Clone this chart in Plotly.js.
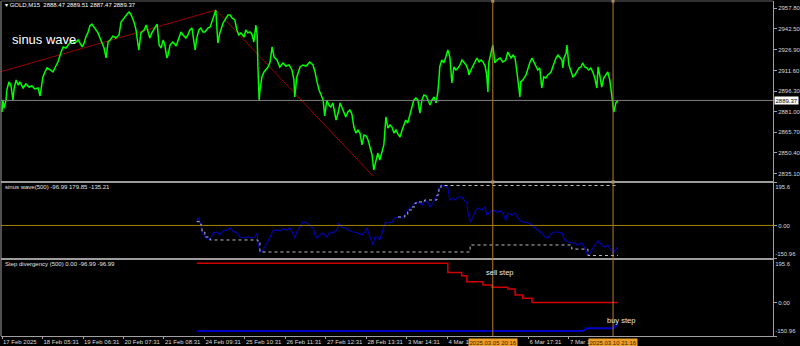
<!DOCTYPE html>
<html><head><meta charset="utf-8">
<script src="https://cdn.plot.ly/plotly-3.0.1.min.js"></script>
<style>html,body{margin:0;padding:0;background:#000;}#chart{width:800px;height:346px;}</style>
</head><body><div id="chart"></div>
<script>
// ---- data (bar index = M15 bars since 17 Feb 2025) ----
const priceBars = [0,2,5,10,12,17,22,27,30,35,40,44,52,59,67,74,81,89,94,96,101,106,111,119,126,133,138,146,151,158,165,173,180,188,193,198,202,207,212,217,222,227,232,237,242,247,252,257,262,267,274,281,289,294,301,309,314,319,326,331,336,338,343,351,356,360,365,370,378,383,388,393,398,402,407,410,415,422,430,435,442,447,454,459,464,469,474,477,481,486,491,496,501,509,514,518,523,528,533,538,546,553,558,563,568,575,580,585,590,598,602,607,612,617,622,627,630,632,635,637,642,647,652,657,662,667,672,679,686,694,701,709,716,721,723,728,736,743,751,756,760,768,773,778,783,788,793,797,802,807,812,817,822,825,830,835,840,844,849,854,859,864,869,874,879,884,889,894,899,904,909,914,918,921,926,928,933,938,943,948,953,958,963,968,973,978,983,988,993,997,1002,1007,1012,1017,1022,1027,1032,1037,1042,1047,1052,1057,1062,1067,1072,1076,1079,1081,1086,1091,1096,1101,1106,1109,1111,1116,1121,1126,1131,1136,1141,1146,1151,1153,1158,1163,1168,1173,1178,1183,1188,1193,1197,1200,1202,1207,1212,1215,1217,1222,1230,1237,1244,1249,1257,1262,1267,1272,1276,1279,1281,1286,1294,1299,1304,1309,1314,1318,1323,1328,1331,1333,1338,1343,1348,1356,1360,1368,1373,1378,1383,1385,1388,1393,1395,1400,1405,1410,1415,1420,1425,1430,1434,1439,1444,1449,1454,1459,1464,1469,1472,1477,1481,1486,1491,1496,1501,1506,1509,1511,1516,1521];
const priceClose = [2880.8,2889.7,2883.7,2889.7,2897.1,2903.1,2900.8,2889.7,2898.6,2904.5,2900.8,2903.1,2898.6,2901.6,2899.3,2900.1,2897.9,2898.6,2892.7,2897.1,2906.8,2910.5,2913.5,2912.0,2910.5,2914.9,2917.9,2925.3,2929.1,2928.3,2931.3,2933.5,2932.0,2934.3,2931.3,2929.1,2931.3,2936.5,2939.5,2944.7,2946.1,2943.9,2941.7,2939.5,2935.7,2932.0,2928.3,2920.9,2932.8,2934.3,2937.2,2935.7,2938.0,2947.6,2950.6,2953.6,2955.1,2952.8,2947.6,2941.7,2930.5,2926.8,2939.5,2941.7,2945.4,2940.2,2935.7,2939.5,2943.2,2946.1,2930.5,2928.3,2934.3,2930.5,2920.9,2923.1,2930.5,2932.8,2929.8,2934.3,2940.2,2938.0,2935.7,2938.0,2941.7,2943.2,2934.3,2926.8,2935.7,2941.7,2943.2,2940.2,2940.2,2943.2,2943.9,2947.6,2950.6,2956.5,2932.0,2939.5,2946.9,2950.6,2952.8,2952.8,2950.6,2949.1,2941.7,2938.0,2939.5,2936.5,2941.7,2939.5,2940.2,2938.7,2932.8,2945.4,2938.0,2914.2,2889.7,2897.1,2906.8,2910.5,2912.0,2914.2,2917.9,2929.1,2921.6,2919.4,2914.2,2917.2,2914.9,2915.7,2912.0,2904.5,2891.9,2906.8,2914.2,2915.7,2914.9,2916.4,2917.9,2915.7,2910.5,2903.1,2897.1,2893.4,2889.7,2877.8,2889.7,2886.0,2884.5,2887.5,2880.8,2874.8,2880.0,2887.5,2883.7,2880.0,2877.1,2880.8,2882.3,2879.3,2869.6,2865.2,2867.4,2865.2,2856.3,2863.7,2863.0,2860.0,2854.8,2848.8,2837.7,2841.4,2846.6,2850.3,2845.1,2851.1,2856.3,2877.1,2868.9,2871.1,2869.6,2865.2,2867.4,2864.4,2862.2,2867.4,2871.1,2874.8,2872.6,2878.5,2884.5,2889.7,2891.2,2889.7,2880.0,2889.7,2893.4,2892.7,2889.7,2886.0,2889.7,2891.9,2887.5,2894.9,2904.5,2914.2,2919.4,2917.2,2921.6,2926.8,2921.6,2912.0,2902.3,2914.2,2912.0,2913.5,2915.7,2919.4,2917.2,2915.7,2912.0,2908.3,2912.0,2914.9,2917.9,2920.9,2917.9,2919.4,2917.9,2914.9,2908.3,2895.6,2917.2,2924.6,2930.5,2923.1,2917.2,2919.4,2920.9,2917.9,2919.4,2925.3,2920.9,2923.1,2920.9,2909.7,2899.3,2891.9,2903.1,2904.5,2908.3,2914.2,2917.9,2920.9,2917.9,2915.7,2912.0,2913.5,2906.0,2898.6,2906.8,2906.0,2908.3,2910.5,2914.2,2920.9,2923.1,2920.9,2919.4,2913.5,2920.9,2924.6,2930.5,2915.7,2910.5,2906.8,2908.3,2910.5,2913.5,2914.2,2917.2,2914.2,2913.5,2912.0,2913.5,2910.5,2906.0,2898.6,2914.2,2906.8,2899.3,2906.0,2908.3,2910.5,2904.5,2891.9,2883.7,2880.8,2887.5,2889.37];
const zigzagBars = [-5, 528, 916];
const zigzagPrices = [2910.5, 2956.5, 2833.3];
const lastPrice = 2889.37;
const headerText = "GOLD,M15  2888.47 2889.51 2887.47 2889.37";

const sinusBars = [481,484,489,491,494,501,514,521,531,538,546,556,563,570,580,588,600,607,617,625,630,632,637,642,649,657,662,669,679,686,694,704,711,718,723,728,736,743,753,760,768,773,778,785,793,802,810,817,827,832,839,847,854,864,872,879,889,896,901,909,916,921,928,933,938,943,948,953,963,970,978,988,995,1002,1012,1020,1027,1037,1044,1052,1057,1064,1074,1079,1084,1099,1101,1106,1114,1118,1126,1136,1141,1148,1151,1156,1163,1168,1175,1185,1193,1197,1205,1212,1222,1230,1237,1244,1249,1259,1267,1274,1284,1291,1299,1309,1316,1323,1333,1341,1348,1358,1365,1373,1383,1390,1398,1407,1415,1422,1432,1439,1447,1457,1464,1472,1481,1489,1496,1504,1509,1519,1521];
const sinusVals = [17.0,33.6,15.6,2.1,-29.4,-51.9,-65.4,-33.9,-29.4,-42.9,-24.9,-20.4,-11.4,-24.9,-33.9,-51.9,-56.4,-51.9,-56.4,-51.9,-33.9,-74.4,-119.4,-119.4,-96.9,-74.4,-51.9,-24.9,-20.4,-24.9,-15.9,-20.4,-11.4,-33.9,-56.4,-29.4,-6.9,15.6,11.1,2.1,-11.4,-42.9,-56.4,-42.9,-33.9,-51.9,-29.4,-33.9,-20.4,11.1,-6.9,-11.4,-20.4,-29.4,-29.4,-33.9,-42.9,-29.4,-11.4,-51.9,-87.9,-51.9,-51.9,-65.4,-33.9,-6.9,15.6,11.1,15.6,33.6,38.1,33.6,47.1,69.6,83.1,101.1,105.6,92.1,114.6,101.1,83.1,101.1,137.1,168.6,179.85,173.1,168.6,114.6,123.6,114.6,128.1,128.1,114.6,105.6,56.1,15.6,38.1,60.6,78.6,69.6,83.1,47.1,60.6,69.6,60.6,65.1,56.1,24.6,56.1,47.1,56.1,33.6,15.6,15.6,11.1,2.1,-11.4,-20.4,-33.9,-51.9,-56.4,-33.9,-29.4,-29.4,-33.9,-65.4,-74.4,-78.9,-78.9,-87.9,-78.9,-101.4,-135.21,-110.4,-87.9,-69.9,-87.9,-96.9,-87.9,-110.4,-123.9,-101.4,-96.99];
const upperBars = [978,995,1002,1012,1020,1027,1044,1074,1079,1084,1521];
const upperVals = [38.1,47.1,69.6,83.1,101.1,105.6,114.6,137.1,168.6,179.85,179.85];
const lowerBars = [481,489,491,494,501,514,632,637,1156,1407,1447,1521];
const lowerVals = [17.0,15.6,2.1,-29.4,-51.9,-65.4,-74.4,-119.4,-87.9,-106.4,-135.21,-135.21];

const sellBars = [481,1101,1135,1148,1188,1210,1249,1267,1286,1309,1521];
const sellVals = [176.3,134.4,120.5,93.5,78.6,68.3,60.6,33.6,18.8,0,0];
const buyBars = [481,1434,1444,1509,1516,1521];
const buyVals = [-128.4,-128.4,-116.4,-116.4,-105.0,-96.99];

// time-scale labels (the ones under the two orange time boxes are hidden there, as in the terminal)
const timeTickBars = [0,100,200,300,400,500,600,700,800,900,1000,1100,1300,1400];
const timeTickLabels = ['17 Feb 2025','18 Feb 05:31','19 Feb 06:31','20 Feb 07:31','21 Feb 08:31','24 Feb 09:31','25 Feb 10:31','26 Feb 11:31','27 Feb 12:31','28 Feb 13:31','3 Mar 14:31','4 Mar 15:31','6 Mar 17:31','7 Mar 18:31'];
const priceTicks = [2835.10,2850.40,2865.70,2881.00,2896.30,2911.60,2926.90,2942.50,2957.80];
const indMax = 195.6, indMin = -150.96;
const markerBars = [1212, 1509];
const markerLabels = ['2025.03.05 20:16','2025.03.10 21:16'];

// ---- styling ----
const FONT = 'Liberation Sans, Arial, sans-serif';
const AX = '#a0a0a0', TXT = '#d8d8d8';
const priceRange = [2828.8, 2963.2];
const dMain = [0.4597, 1], dP1 = [0.2299, 0.4597], dP2 = [0, 0.2299];

const traces = [
  {x: zigzagBars, y: zigzagPrices, yaxis:'y', mode:'lines', line:{color:'#9a0000', width:1}},
  {x: priceBars, y: priceClose, yaxis:'y', mode:'lines', line:{color:'#00ff00', width:1.5}},
  {x: markerBars.concat(markerBars), y: [priceRange[1],priceRange[1],priceRange[0],priceRange[0]], yaxis:'y', mode:'markers', cliponaxis:false,
   marker:{symbol:'square', size:3, color:'#f0c080'}},
  {x: sinusBars, y: sinusVals, yaxis:'y2', mode:'lines', line:{color:'#0000b4', width:1.2}},
  {x: upperBars, y: upperVals, yaxis:'y2', mode:'lines', line:{color:'#bcbcbc', width:1, dash:'dot', shape:'hv'}},
  {x: lowerBars, y: lowerVals, yaxis:'y2', mode:'lines', line:{color:'#bcbcbc', width:1, dash:'dot', shape:'hv'}},
  {x: sellBars, y: sellVals, yaxis:'y3', mode:'lines', line:{color:'#d00000', width:1.5, shape:'hv'}},
  {x: buyBars, y: buyVals, yaxis:'y3', mode:'lines', line:{color:'#0000c8', width:2}},
  // empty traces so the overlay label axes are drawn
  {x: [], y: [], yaxis:'y4', mode:'lines'},
  {x: [], y: [], yaxis:'y5', mode:'lines'},
  {x: [], y: [], yaxis:'y6', mode:'lines'},
  {x: [], y: [], yaxis:'y7', mode:'lines'}
];

function yax(domain, range, extra) {
  return Object.assign({domain: domain, range: range, side:'right', anchor:'x', showgrid:false, zeroline:false,
    showline:true, linecolor:AX, linewidth:1, ticks:'outside', ticklen:3, tickcolor:AX,
    tickfont:{family:FONT, size:6, color:TXT}, fixedrange:true}, extra||{});
}
function ovl(over, vals, texts, pos) {
  return {overlaying: over, range:[indMin, indMax], autorange:false, side:'right', anchor:'x', showgrid:false, zeroline:false,
    showline:false, ticks:'outside', ticklen:3, tickcolor:AX, tickvals: vals, ticktext: texts,
    ticklabelposition: pos, tickfont:{family:FONT, size:6, color:TXT}};
}

const shapes = [
  {type:'line', xref:'paper', x0:0, x1:1, yref:'y', y0:lastPrice, y1:lastPrice, line:{color:'#808080', width:1}},
  {type:'line', xref:'paper', x0:0, x1:1, yref:'y2', y0:0, y1:0, line:{color:'#a08400', width:1}},
  {type:'line', xref:'paper', x0:0, x1:1, yref:'paper', y0:dMain[0], y1:dMain[0], line:{color:'#9c9c9c', width:2}},
  {type:'line', xref:'paper', x0:0, x1:1, yref:'paper', y0:dP1[0], y1:dP1[0], line:{color:'#9c9c9c', width:2}},
  {type:'line', xref:'paper', x0:0, x1:0, yref:'paper', y0:0, y1:1, line:{color:AX, width:1}},
  {type:'line', xref:'paper', x0:0, x1:1, yref:'paper', y0:1, y1:1, line:{color:'#606060', width:1}}
];
markerBars.forEach(b => shapes.push({type:'line', xref:'x', x0:b, x1:b, yref:'paper', y0:0, y1:1, line:{color:'#b47a30', width:1}}));

const annotations = [
  {xref:'paper', yref:'paper', x:0.003, y:0.988, xanchor:'left', yanchor:'middle', showarrow:false,
   text:'▾ ' + headerText, font:{family:FONT, size:6, color:'#ffffff'}},
  {xref:'paper', yref:'paper', x:0.0115, y:0.884, xanchor:'left', yanchor:'middle', showarrow:false,
   text:'sinus wave', font:{family:FONT, size:13, color:'#ffffff'}},
  {xref:'paper', yref:'paper', x:0.003, y:0.4448, xanchor:'left', yanchor:'middle', showarrow:false,
   text:'sinus wave(500) -96.99 179.85 -135.21', font:{family:FONT, size:6, color:'#e0e0e0'}},
  {xref:'paper', yref:'paper', x:0.003, y:0.2149, xanchor:'left', yanchor:'middle', showarrow:false,
   text:'Step divergency (500) 0.00 -96.99 -96.99', font:{family:FONT, size:6, color:'#e0e0e0'}},
  {xref:'x', yref:'y3', x:1230, y:137, xanchor:'center', yanchor:'middle', showarrow:false,
   text:'sell step', font:{family:FONT, size:7.5, color:'#e8e8e8'}},
  {xref:'x', yref:'y3', x:1528, y:-79, xanchor:'center', yanchor:'middle', showarrow:false,
   text:'buy step', font:{family:FONT, size:7.5, color:'#e8e8e8'}},
  {xref:'paper', yref:'y', x:1, y:lastPrice, xanchor:'left', yanchor:'middle', xshift:1, showarrow:false,
   text: lastPrice.toFixed(2), bgcolor:'#ffffff', borderpad:0.5, font:{family:FONT, size:6, color:'#000000'}}
];
markerBars.forEach((b,i) => annotations.push({xref:'x', yref:'paper', x:b, y:0, xanchor:'center', yanchor:'top', yshift:-1.5,
  showarrow:false, text:markerLabels[i], bgcolor:'#f0a028', borderpad:0.5, font:{family:FONT, size:6, color:'#3a2000'}}));

const layout = {
  width:800, height:346, margin:{l:1, r:27, t:1, b:10},
  paper_bgcolor:'#000000', plot_bgcolor:'#000000', showlegend:false,
  xaxis:{range:[-2.5, 1904], anchor:'y3', showgrid:false, zeroline:false, showline:true, linecolor:AX,
    tickvals: timeTickBars, ticktext: timeTickLabels, ticks:'outside', ticklen:2, tickcolor:AX, tickangle:0,
    ticklabelposition:'outside right', tickfont:{family:FONT, size:6, color:TXT}, fixedrange:true},
  yaxis: yax(dMain, priceRange, {tickvals: priceTicks, tickformat:'.2f'}),
  yaxis2: yax(dP1, [indMin, indMax], {tickvals:[0], ticktext:['0.00']}),
  yaxis3: yax(dP2, [indMin, indMax], {tickvals:[0], ticktext:['0.00']}),
  yaxis4: ovl('y2', [indMax], ['195.6'], 'outside bottom'),
  yaxis5: ovl('y2', [indMin], ['-150.96'], 'outside top'),
  yaxis6: ovl('y3', [indMax], ['195.6'], 'outside bottom'),
  yaxis7: ovl('y3', [indMin], ['-150.96'], 'outside top'),
  shapes: shapes, annotations: annotations
};

Plotly.newPlot('chart', traces, layout, {staticPlot:true, displayModeBar:false});
</script></body></html>
